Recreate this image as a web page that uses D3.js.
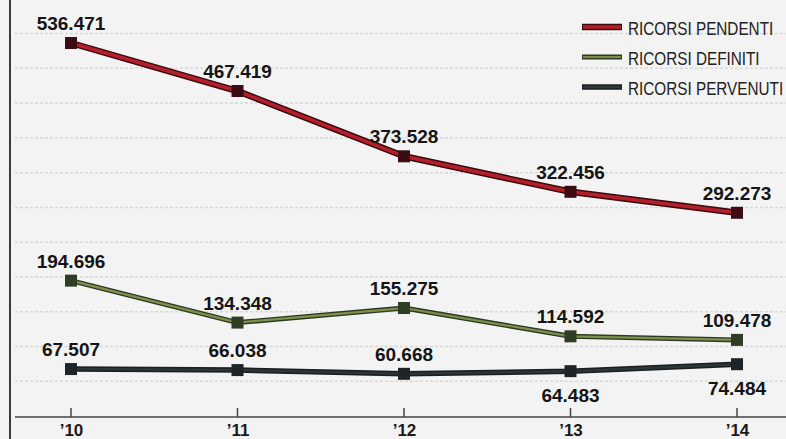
<!DOCTYPE html>
<html>
<head>
<meta charset="utf-8">
<script src="https://cdn.jsdelivr.net/npm/d3@7"></script>
<style>
  html, body { margin: 0; padding: 0; background: #f3f3f3; }
  svg { display: block; }
</style>
</head>
<body>
<svg id="chart" width="786" height="439"></svg>
<script>
// ---- data ----
const years = ["'10", "'11", "'12", "'13", "'14"];
const tickLabels = ["\u201910", "\u201911", "\u201912", "\u201913", "\u201914"];
const pendenti = [536471, 467419, 373528, 322456, 292273];
const definiti = [194696, 134348, 155275, 114592, 109478];
const pervenuti = [67507, 66038, 60668, 64483, 74484];
const pervenutiLabelPos = ["above", "above", "above", "below", "below"];
const seriesNames = ["RICORSI PENDENTI", "RICORSI DEFINITI", "RICORSI PERVENUTI"];
const gridTicks = [50000, 100000, 150000, 200000, 250000, 300000, 350000, 400000, 450000, 500000, 550000];

const fmt = v => d3.format(",")(v).replace(/,/g, ".");

const svg = d3.select("#chart");
const W = 786, H = 439;

const x = d3.scalePoint().domain(years).range([71, 737]);
const y = d3.scaleLinear().domain([0, 536471]).range([416, 43]);

// background
svg.append("rect").attr("width", W).attr("height", H).attr("fill", "#f3f3f3");

// faint gridlines
svg.append("g").selectAll("line").data(gridTicks).join("line")
  .attr("x1", 15).attr("x2", W)
  .attr("y1", d => y(d)).attr("y2", d => y(d))
  .attr("stroke", "#d8d8d8").attr("stroke-width", 1.5)
  .attr("stroke-dasharray", "3,2");

// left border
svg.append("line").attr("x1", 10).attr("x2", 10).attr("y1", 0).attr("y2", H)
  .attr("stroke", "#3a3a3a").attr("stroke-width", 2);

// x axis
const axisY = 417;
const xAxis = d3.axisBottom(x).tickSize(0).tickFormat((d, i) => tickLabels[i]);
const gx = svg.append("g").attr("transform", `translate(0,${axisY})`).call(xAxis);
gx.select(".domain").remove();
gx.selectAll("text")
  .attr("dy", 0).attr("y", 19)
  .attr("font-family", "'Liberation Sans', Arial, sans-serif")
  .attr("font-weight", "bold").attr("font-size", 17).attr("fill", "#1a1a1a");
svg.append("line").attr("x1", 15).attr("x2", W).attr("y1", axisY).attr("y2", axisY)
  .attr("stroke", "#444").attr("stroke-width", 1.5);
svg.append("g").selectAll("line").data(years).join("line")
  .attr("x1", d => x(d)).attr("x2", d => x(d))
  .attr("y1", axisY - 9).attr("y2", axisY)
  .attr("stroke", "#444").attr("stroke-width", 1.5);

const line = d3.line().x((d, i) => x(years[i])).y(d => y(d)).curve(d3.curveLinear);

const series = [
  { name: seriesNames[0], values: pendenti, outer: "#3a0a0e", inner: "#b51f2b", ow: 6.5, iw: 3.5, marker: "#3b0c12", pos: years.map(() => "above") },
  { name: seriesNames[1], values: definiti, outer: "#2d3a22", inner: "#7f8f4c", ow: 5, iw: 2.2, marker: "#2f3d24", pos: years.map(() => "above") },
  { name: seriesNames[2], values: pervenuti, outer: "#1b1f22", inner: "#2e3438", ow: 5.5, iw: 2.5, marker: "#1e2428", pos: pervenutiLabelPos }
];

series.forEach(s => {
  const g = svg.append("g");
  g.append("path").attr("d", line(s.values)).attr("fill", "none")
    .attr("stroke", s.outer).attr("stroke-width", s.ow).attr("stroke-linejoin", "round");
  g.append("path").attr("d", line(s.values)).attr("fill", "none")
    .attr("stroke", s.inner).attr("stroke-width", s.iw).attr("stroke-linejoin", "round");
  g.selectAll("rect").data(s.values).join("rect")
    .attr("x", (d, i) => x(years[i]) - 6).attr("y", d => y(d) - 6)
    .attr("width", 12).attr("height", 12).attr("fill", s.marker);
  g.selectAll("text").data(s.values).join("text")
    .attr("x", (d, i) => x(years[i]))
    .attr("y", (d, i) => y(d) + (s.pos[i] === "below" ? 31 : -13))
    .attr("text-anchor", "middle")
    .attr("font-family", "'Liberation Sans', Arial, sans-serif")
    .attr("font-weight", "bold").attr("font-size", 19).attr("fill", "#151515")
    .text(d => fmt(d));
});

// legend
const lg = svg.append("g");
series.forEach((s, i) => {
  const ly = 27 + i * 30;
  lg.append("line").attr("x1", 582).attr("x2", 622).attr("y1", ly).attr("y2", ly)
    .attr("stroke", s.outer).attr("stroke-width", s.ow);
  lg.append("line").attr("x1", 583).attr("x2", 621).attr("y1", ly).attr("y2", ly)
    .attr("stroke", s.inner).attr("stroke-width", s.iw);
  lg.append("text")
    .attr("transform", `translate(628,${ly + 8}) scale(0.85,1)`)
    .attr("font-family", "'Liberation Sans', Arial, sans-serif")
    .attr("font-size", 18).attr("fill", "#222")
    .text(s.name);
});
</script>
</body>
</html>
